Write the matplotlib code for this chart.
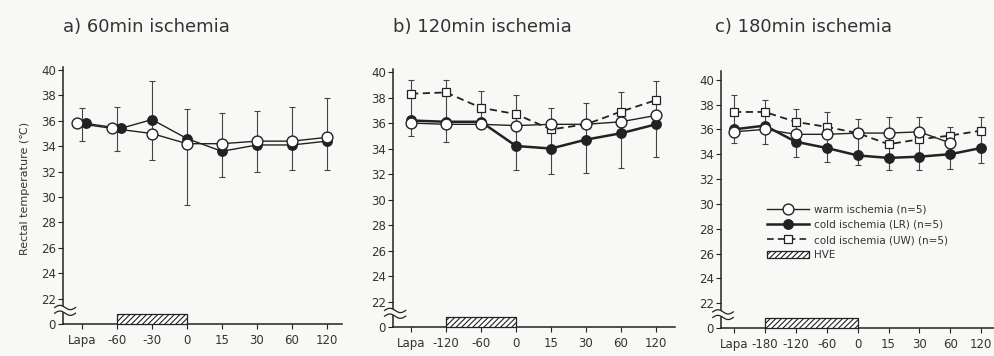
import matplotlib
matplotlib.use('Agg')
import matplotlib.pyplot as plt
import matplotlib.transforms as mtransforms
from matplotlib.lines import Line2D
from matplotlib.patches import Patch
import numpy as np

plt.rcParams['font.family'] = ['DejaVu Sans', 'Noto Sans CJK JP']
plt.rcParams['hatch.linewidth'] = 0.8

# ---------------- data ----------------
series_names = ['warm ischemia (n=5)', 'cold ischemia (LR) (n=5)',
                'cold ischemia (UW) (n=5)', 'HVE']
titles = ['a) 60min ischemia', 'b) 120min ischemia', 'c) 180min ischemia']
y_label = 'Rectal temperature (℃)'
y_ticks = [0, 22, 24, 26, 28, 30, 32, 34, 36, 38, 40]

a_labels = ['Lapa', '-60', '-30', '0', '15', '30', '60', '120']
a_warm = [35.8, 35.4, 35.0, 34.2, 34.2, 34.4, 34.4, 34.7]
a_lr = [35.8, 35.4, 36.1, 34.6, 33.6, 34.1, 34.1, 34.4]
a_err_lo = [34.4, 33.6, 32.9, 29.4, 31.6, 32.0, 32.1, 32.1]
a_err_hi = [37.0, 37.1, 39.1, 36.9, 36.6, 36.8, 37.1, 37.8]
a_hve = ('-60', '0')

b_labels = ['Lapa', '-120', '-60', '0', '15', '30', '60', '120']
b_warm = [36.0, 35.9, 35.9, 35.8, 35.9, 35.9, 36.1, 36.6]
b_lr = [36.2, 36.1, 36.1, 34.2, 34.0, 34.7, 35.2, 35.9]
b_uw = [38.3, 38.4, 37.2, 36.7, 35.5, 35.9, 36.9, 37.8]
b_err_lo = [35.0, 34.5, 35.6, 32.3, 32.0, 32.1, 32.5, 33.3]
b_err_hi = [39.4, 39.4, 38.5, 38.2, 37.2, 37.6, 38.4, 39.3]
b_hve = ('-120', '0')

c_labels = ['Lapa', '-180', '-120', '-60', '0', '15', '30', '60', '120']
c_warm = [35.8, 36.0, 35.6, 35.6, 35.7, 35.7, 35.8, 34.9, np.nan]
c_lr = [36.0, 36.3, 35.0, 34.5, 33.9, 33.7, 33.8, 34.0, 34.5]
c_uw = [37.4, 37.4, 36.6, 36.2, 35.7, 34.8, 35.2, 35.5, 35.9]
c_err_lo = [34.9, 34.8, 33.8, 33.4, 33.1, 32.7, 32.7, 32.8, 33.3]
c_err_hi = [38.8, 38.4, 37.6, 37.4, 36.8, 37.0, 37.0, 36.2, 37.0]
c_hve = ('-180', '0')

# ---------------- style ----------------
BG = '#f8f8f6'
INK = '#222222'
TXT = '#333333'
ZERO_POS = 20.0   # position of the "0" level below the axis break


def ypos(v):
    v = np.asarray(v, dtype=float)
    return np.where(v < 21, ZERO_POS + v, v)


fig = plt.figure(figsize=(9.94, 3.56), dpi=100, facecolor=BG)

W, H = 994.0, 356.0
boxes = [  # left, right, top, bottom in pixels
    (63, 342, 67, 324),
    (393, 675, 69, 327),
    (721, 994, 71, 328),
]
ytops = [40.24, 40.24, 40.7]
steps = [35.0, 35.0, 30.9]
firsts = [82.0, 411.0, 734.0]


def make_ax(i):
    l, r, t, b = boxes[i]
    ax = fig.add_axes([l / W, 1 - b / H, (r - l) / W, (b - t) / H])
    ax.set_facecolor('none')
    for s in ('top', 'right'):
        ax.spines[s].set_visible(False)
    for s in ('left', 'bottom'):
        ax.spines[s].set_linewidth(1.1)
        ax.spines[s].set_color(INK)
    ax.set_ylim(ZERO_POS, ytops[i])
    ax.set_yticks(ypos(y_ticks))
    ax.set_yticklabels([str(t) for t in y_ticks])
    ax.tick_params(axis='both', direction='out', length=3.5, width=0.8,
                   colors=INK, labelcolor=TXT, labelsize=8.5, pad=1.5)
    ax.tick_params(axis='x', pad=3.5)
    return ax


def draw_break(ax):
    trans = mtransforms.blended_transform_factory(ax.transAxes, ax.transData)
    t = np.linspace(0, 1, 40)
    xs = -0.03 + 0.075 * t
    w = 0.17 * np.sin(2 * np.pi * t)
    ax.fill_between(xs, 20.85 + w, 21.3 + w, color=BG, transform=trans,
                    clip_on=False, zorder=5, lw=0)
    for yc in (21.3, 20.85):
        ax.plot(xs, yc + w, transform=trans, color=INK, lw=0.9,
                clip_on=False, zorder=6)


def draw_panel(i, labels, warm, lr, uw, err_lo, err_hi, hve, lr_lw, dodge_n=0):
    ax = make_ax(i)
    x = np.arange(len(labels), dtype=float)
    l, r, t, b = boxes[i]
    ax.set_xlim((l - firsts[i]) / steps[i], (r - firsts[i]) / steps[i])
    ax.set_xticks(x)
    ax.set_xticklabels(labels)

    lo = np.array(err_lo)
    hi = np.array(err_hi)
    ax.errorbar(x, lo, yerr=[np.zeros_like(lo), hi - lo], fmt='none',
                ecolor='#444444', elinewidth=0.8, capsize=2, capthick=0.8,
                zorder=1)

    xw = x.copy()
    xl = x.copy()
    if dodge_n:
        xw[:dodge_n] -= 0.13
        xl[:dodge_n] += 0.10

    if uw is not None:
        ax.plot(x, uw, ls=(0, (4, 2.5)), lw=1.3, color=INK, marker='s',
                ms=5.2, mfc='white', mec=INK, mew=0.9, zorder=2)
    ax.plot(xl, lr, ls='-', lw=lr_lw, color=INK, marker='o', ms=6.8,
            mfc=INK, mec=INK, zorder=3)
    ax.plot(xw, warm, ls='-', lw=1.0, color=INK, marker='o', ms=7.8,
            mfc='white', mec=INK, mew=1.0, zorder=4)

    s, e = labels.index(hve[0]), labels.index(hve[1])
    ax.bar(x[s], 0.8, width=x[e] - x[s], bottom=ZERO_POS, align='edge',
           facecolor='white', edgecolor=INK, hatch='//////', lw=0.9,
           zorder=3, clip_on=False)
    draw_break(ax)
    return ax


axA = draw_panel(0, a_labels, a_warm, a_lr, None, a_err_lo, a_err_hi, a_hve,
                 lr_lw=1.0, dodge_n=2)
axB = draw_panel(1, b_labels, b_warm, b_lr, b_uw, b_err_lo, b_err_hi, b_hve,
                 lr_lw=1.8)
axC = draw_panel(2, c_labels, c_warm, c_lr, c_uw, c_err_lo, c_err_hi, c_hve,
                 lr_lw=1.8)

handles = [
    Line2D([], [], color=INK, lw=1.0, marker='o', ms=7.8, mfc='white',
           mec=INK, mew=1.0),
    Line2D([], [], color=INK, lw=1.8, marker='o', ms=6.8, mfc=INK, mec=INK),
    Line2D([], [], color=INK, lw=1.2, ls=(0, (4, 2.5)), marker='s', ms=5.2,
           mfc='white', mec=INK, mew=0.9),
    Patch(facecolor='white', edgecolor=INK, hatch='//////', lw=0.9),
]
axC.legend(handles, series_names, loc='upper left',
           bbox_to_anchor=(0.17, 0.48), frameon=False, fontsize=7.5,
           handlelength=4.0, handletextpad=0.5, labelspacing=0.5,
           borderpad=0, borderaxespad=0, labelcolor=TXT)

title_x = [63, 393, 715]
for tx, tt in zip(title_x, titles):
    fig.text(tx / W, 1 - 32 / H, tt, fontsize=13, color=TXT, va='baseline',
             ha='left')

fig.text(25 / W, 1 - 188 / H, y_label, rotation=90, fontsize=8, color=TXT,
         ha='center', va='center')

fig.savefig('out.png', dpi=100, facecolor=BG)
